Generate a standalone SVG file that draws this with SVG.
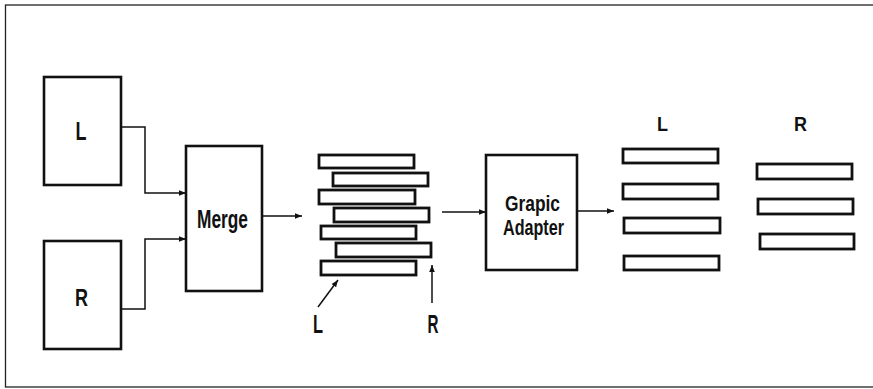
<svg xmlns="http://www.w3.org/2000/svg" width="873" height="389" viewBox="0 0 873 389">
<style>
.box{fill:#fff;stroke:#111;stroke-width:2.6}
.bar{fill:#fff;stroke:#111;stroke-width:2.8}
.ln{fill:none;stroke:#111;stroke-width:1.5}
.t{font-family:"Liberation Sans",Arial,sans-serif;font-weight:bold;fill:#111}
</style>
<defs>
<marker id="ah" viewBox="0 0 10 10" refX="10" refY="5" markerWidth="7" markerHeight="7" markerUnits="userSpaceOnUse" orient="auto">
<path d="M0,1 L10,5 L0,9 Z" fill="#111"/>
</marker>
</defs>
<rect x="0" y="0" width="873" height="389" fill="#fff"/>
<rect x="5.5" y="5" width="880" height="382" fill="none" stroke="#222" stroke-width="1.3"/>

<g id="boxL"><rect class="box" x="44" y="77" width="77" height="108"/><text class="t" x="81" y="140" font-size="25" text-anchor="middle" textLength="11" lengthAdjust="spacingAndGlyphs">L</text></g>
<g id="boxR"><rect class="box" x="44" y="241" width="77" height="108"/><text class="t" x="81.5" y="306" font-size="23" text-anchor="middle" textLength="13" lengthAdjust="spacingAndGlyphs">R</text></g>
<g id="merge"><rect class="box" x="186" y="146" width="76" height="145"/><text class="t" x="222.5" y="228" font-size="26" text-anchor="middle" textLength="51" lengthAdjust="spacingAndGlyphs">Merge</text></g>

<g id="interleaved">
<rect class="bar" x="319" y="155" width="95" height="13"/>
<rect class="bar" x="333" y="173" width="95" height="13"/>
<rect class="bar" x="319" y="190" width="96" height="14"/>
<rect class="bar" x="334" y="208" width="95" height="14"/>
<rect class="bar" x="321" y="226" width="95" height="13"/>
<rect class="bar" x="336" y="243" width="95" height="14"/>
<rect class="bar" x="321" y="261" width="95" height="14"/>
<text class="t" x="318" y="333" font-size="25" text-anchor="middle" textLength="10" lengthAdjust="spacingAndGlyphs">L</text>
<text class="t" x="433" y="333" font-size="25" text-anchor="middle" textLength="11" lengthAdjust="spacingAndGlyphs">R</text>
</g>

<g id="adapter"><rect class="box" x="486" y="155" width="91" height="115"/>
<text class="t" x="532.5" y="211" font-size="22" text-anchor="middle" textLength="55" lengthAdjust="spacingAndGlyphs">Grapic</text>
<text class="t" x="533.5" y="235" font-size="22" text-anchor="middle" textLength="61" lengthAdjust="spacingAndGlyphs">Adapter</text></g>

<g id="outL">
<text class="t" x="662.5" y="131" font-size="20" text-anchor="middle" textLength="11" lengthAdjust="spacingAndGlyphs">L</text>
<rect class="bar" x="623" y="149" width="95" height="14"/>
<rect class="bar" x="623" y="184" width="95" height="15"/>
<rect class="bar" x="624" y="218" width="96" height="15"/>
<rect class="bar" x="624" y="256" width="95" height="14"/>
</g>
<g id="outR">
<text class="t" x="800.5" y="131" font-size="20" text-anchor="middle" textLength="13" lengthAdjust="spacingAndGlyphs">R</text>
<rect class="bar" x="757" y="164" width="95" height="15"/>
<rect class="bar" x="758" y="199" width="95" height="15"/>
<rect class="bar" x="760" y="234" width="94" height="15"/>
</g>

<g id="connectors">
<path class="ln" d="M121,127 H145 V193 H186" marker-end="url(#ah)"/>
<path class="ln" d="M121,309 H145 V239 H186" marker-end="url(#ah)"/>
<path class="ln" d="M262,216 H302" marker-end="url(#ah)"/>
<path class="ln" d="M442,212 H486" marker-end="url(#ah)"/>
<path class="ln" d="M577,211 H614" marker-end="url(#ah)"/>
<path class="ln" d="M318,307 L338,280" marker-end="url(#ah)"/>
<path class="ln" d="M432,303 V265" marker-end="url(#ah)"/>
</g>
</svg>
